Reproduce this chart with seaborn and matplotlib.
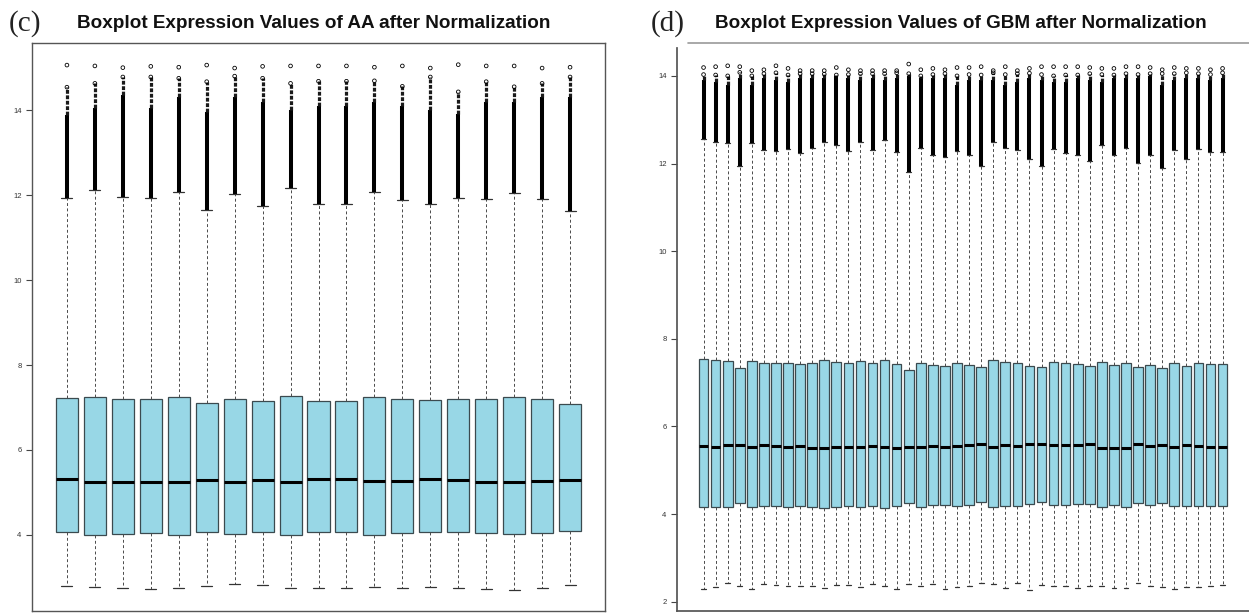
import numpy as np
import pandas as pd
import matplotlib
matplotlib.use("Agg")
import matplotlib.pyplot as plt
import seaborn as sns

# ---------------- data ----------------
aa_q3 = [7.22, 7.25, 7.20, 7.19, 7.25, 7.10, 7.21, 7.15, 7.27, 7.15, 7.15, 7.24, 7.19, 7.17, 7.20, 7.19, 7.24, 7.19, 7.09]
aa_med = [5.32, 5.25, 5.24, 5.25, 5.25, 5.30, 5.25, 5.29, 5.25, 5.31, 5.31, 5.26, 5.26, 5.31, 5.29, 5.25, 5.25, 5.27, 5.29]
aa_q1 = [4.06, 4.00, 4.02, 4.04, 4.00, 4.07, 4.02, 4.08, 4.01, 4.08, 4.08, 4.00, 4.04, 4.08, 4.06, 4.04, 4.02, 4.04, 4.09]
aa_lo = [2.80, 2.78, 2.75, 2.73, 2.74, 2.80, 2.84, 2.82, 2.74, 2.76, 2.76, 2.78, 2.75, 2.78, 2.76, 2.73, 2.71, 2.75, 2.82]
aa_hi = [11.92, 12.12, 11.96, 11.92, 12.08, 11.66, 12.02, 11.75, 12.17, 11.78, 11.78, 12.08, 11.88, 11.80, 11.92, 11.90, 12.06, 11.91, 11.63]
aa_dense = [13.88, 14.05, 14.35, 14.05, 14.30, 13.95, 14.30, 14.20, 14.00, 14.10, 14.10, 14.20, 14.10, 14.00, 13.90, 14.20, 14.20, 14.30, 14.30]
aa_chain = [14.54, 14.63, 14.78, 14.78, 14.75, 14.67, 14.80, 14.75, 14.63, 14.68, 14.68, 14.69, 14.56, 14.78, 14.43, 14.67, 14.55, 14.63, 14.78]
aa_max = [15.06, 15.04, 15.00, 15.03, 15.01, 15.06, 14.99, 15.03, 15.04, 15.04, 15.04, 15.01, 15.04, 14.99, 15.07, 15.04, 15.04, 14.99, 15.01]

gbm_q3 = [7.54, 7.51, 7.49, 7.33, 7.49, 7.45, 7.45, 7.45, 7.42, 7.45, 7.51, 7.47, 7.45, 7.49, 7.45, 7.52, 7.42, 7.29, 7.45, 7.40, 7.39, 7.45,
          7.40, 7.36, 7.51, 7.47, 7.45, 7.38, 7.36, 7.47, 7.45, 7.42, 7.38, 7.48, 7.40, 7.45, 7.36, 7.40, 7.33, 7.45, 7.38, 7.45, 7.42, 7.42]
gbm_med = [5.56, 5.54, 5.58, 5.58, 5.53, 5.57, 5.55, 5.54, 5.56, 5.51, 5.52, 5.54, 5.54, 5.54, 5.55, 5.53, 5.51, 5.54, 5.54, 5.55, 5.54, 5.55,
           5.58, 5.61, 5.53, 5.58, 5.55, 5.59, 5.61, 5.57, 5.58, 5.58, 5.59, 5.52, 5.52, 5.52, 5.59, 5.56, 5.58, 5.54, 5.58, 5.55, 5.54, 5.53]
gbm_q1 = [4.16, 4.16, 4.17, 4.25, 4.16, 4.18, 4.18, 4.17, 4.19, 4.16, 4.14, 4.16, 4.19, 4.16, 4.18, 4.15, 4.18, 4.26, 4.17, 4.20, 4.21, 4.19,
          4.22, 4.27, 4.16, 4.19, 4.18, 4.23, 4.27, 4.20, 4.22, 4.23, 4.24, 4.17, 4.21, 4.16, 4.25, 4.21, 4.26, 4.18, 4.19, 4.18, 4.18, 4.19]
gbm_lo = [2.30, 2.33, 2.42, 2.36, 2.30, 2.40, 2.39, 2.36, 2.37, 2.37, 2.32, 2.39, 2.39, 2.33, 2.40, 2.35, 2.29, 2.40, 2.37, 2.40, 2.29, 2.33,
          2.37, 2.42, 2.40, 2.32, 2.42, 2.26, 2.39, 2.35, 2.35, 2.32, 2.37, 2.37, 2.32, 2.32, 2.42, 2.35, 2.34, 2.30, 2.34, 2.34, 2.36, 2.39]
gbm_hi = [12.57, 12.49, 12.46, 11.95, 12.47, 12.30, 12.29, 12.33, 12.25, 12.36, 12.49, 12.43, 12.29, 12.49, 12.30, 12.54, 12.27, 11.81,
          12.36, 12.20, 12.15, 12.29, 12.19, 11.95, 12.49, 12.36, 12.30, 12.11, 11.95, 12.33, 12.24, 12.19, 12.05, 12.43, 12.19, 12.36,
          12.01, 12.19, 11.89, 12.30, 12.11, 12.33, 12.27, 12.27]
gbm_dense = [13.90, 13.85, 13.80, 13.95, 13.80, 13.95, 13.90, 13.85, 13.95, 13.95, 13.95, 14.00, 13.95, 13.90, 13.95, 13.90, 13.95, 14.00,
             13.95, 13.95, 13.95, 13.80, 13.90, 13.90, 13.90, 13.80, 13.85, 13.95, 13.90, 13.85, 13.85, 13.95, 13.90, 13.85, 13.95, 13.95,
             13.95, 14.00, 13.80, 13.90, 13.95, 13.95, 13.90, 13.95]
gbm_chain = [14.03, 14.02, 14.00, 14.08, 14.00, 14.05, 14.07, 14.02, 14.05, 14.05, 14.04, 14.02, 14.03, 14.05, 14.05, 14.05, 14.07, 14.05,
             14.00, 14.03, 14.05, 14.00, 14.03, 14.02, 14.07, 14.03, 14.05, 14.06, 14.03, 14.00, 14.02, 14.02, 14.05, 14.03, 14.02, 14.05,
             14.03, 14.05, 14.05, 14.05, 14.07, 14.05, 14.03, 14.07]
gbm_max = [14.19, 14.21, 14.23, 14.21, 14.12, 14.14, 14.23, 14.17, 14.12, 14.12, 14.12, 14.19, 14.14, 14.12, 14.12, 14.12, 14.12, 14.27,
           14.14, 14.17, 14.14, 14.19, 14.19, 14.21, 14.12, 14.21, 14.12, 14.17, 14.21, 14.21, 14.21, 14.21, 14.19, 14.17, 14.17, 14.21,
           14.21, 14.19, 14.14, 14.19, 14.17, 14.17, 14.14, 14.17]

aa_yticks = [4, 6, 8, 10, 12, 14]
gbm_yticks = [2, 4, 6, 8, 10, 12, 14]

title_c = "Boxplot Expression Values of AA after Normalization"
title_d = "Boxplot Expression Values of GBM after Normalization"

# ---------------- style ----------------
sns.set_theme(style="white")
plt.rcParams["font.family"] = ["Liberation Sans", "DejaVu Sans"]

FILL = "#98d7e6"
EDGE = "#3b4a4f"

W, H = 1249, 613
fig = plt.figure(figsize=(W / 100, H / 100), dpi=100)


def frac(x0, y0, x1, y1):
    return [x0 / W, 1 - y1 / H, (x1 - x0) / W, (y1 - y0) / H]


def long_frame(lo, q1, med, q3, hi):
    rows = []
    for i, vals in enumerate(zip(lo, q1, med, q3, hi)):
        for v in vals:
            rows.append((i, v))
    return pd.DataFrame(rows, columns=["sample", "value"])


def panel(ax, lo, q1, med, q3, hi, dense, chain, mx, width, xlim, ylim, yticks):
    df = long_frame(lo, q1, med, q3, hi)
    sns.boxplot(data=df, x="sample", y="value", ax=ax, color=FILL, saturation=1,
                linecolor=EDGE, linewidth=0.9, width=width, whis=(0, 100),
                showfliers=False,
                medianprops=dict(color="black", linewidth=2.2),
                whiskerprops=dict(color="#4a4a4a", linewidth=0.7, linestyle=(0, (3, 2.5))),
                capprops=dict(color="#333333", linewidth=0.9))
    idx = np.arange(len(lo))
    # dense outlier column above each upper whisker
    ax.vlines(idx, hi, dense, color="black", linewidth=2.9, zorder=4)
    ax.vlines(idx, dense, chain, color="#1a1a1a", linewidth=2.3,
              linestyle=(0, (1.2, 0.5)), zorder=4)
    pts = pd.DataFrame({"x": np.concatenate([idx, idx]),
                        "y": np.concatenate([chain, mx])})
    sns.scatterplot(data=pts, x="x", y="y", ax=ax, marker="o", s=7,
                    facecolors="none", edgecolor="black", linewidth=0.6,
                    zorder=5, legend=False)
    ax.set_xlim(*xlim)
    ax.set_ylim(*ylim)
    ax.set_xticks([])
    ax.set_yticks(yticks)
    ax.set_yticklabels([str(t) for t in yticks])
    ax.set_xlabel("")
    ax.set_ylabel("")
    ax.tick_params(axis="y", left=True, length=4.5, width=0.8, color="#444444",
                   labelsize=5.5, labelcolor="#333333", pad=3)


# panel (c)
ax_c = fig.add_axes(frac(32, 43, 605, 611))
panel(ax_c, aa_lo, aa_q1, aa_med, aa_q3, aa_hi, aa_dense, aa_chain, aa_max,
      0.79, (-1.25, 19.25), (2.21, 15.58), aa_yticks)
for s in ax_c.spines.values():
    s.set_color("#555555")
    s.set_linewidth(1.0)

# panel (d)
ax_d = fig.add_axes(frac(677, 43, 1252, 611))
panel(ax_d, gbm_lo, gbm_q1, gbm_med, gbm_q3, gbm_hi, gbm_dense, gbm_chain, gbm_max,
      0.80, (-2.2, 45.44), (1.79, 14.75), gbm_yticks)
ax_d.spines["right"].set_visible(False)
ax_d.spines["top"].set_visible(False)
ax_d.spines["left"].set_color("#555555")
ax_d.spines["bottom"].set_color("#555555")
ax_d.spines["left"].set_bounds(1.79, 14.64)
ax_d.plot([0.019, 1.0], [1.0, 1.0], transform=ax_d.transAxes, color="#9a9a9a",
          linewidth=1.2, clip_on=False)

# titles and panel letters
fig.text(77 / W, 1 - 28 / H, title_c, fontsize=13.6, fontweight="bold",
         family=["Liberation Sans", "DejaVu Sans"], ha="left", va="baseline", color="#111111")
fig.text(715 / W, 1 - 28 / H, title_d, fontsize=13.6, fontweight="bold",
         family=["Liberation Sans", "DejaVu Sans"], ha="left", va="baseline", color="#111111")
fig.text(9 / W, 1 - 31 / H, "(c)", fontsize=21,
         family=["Liberation Serif", "DejaVu Serif"], ha="left", va="baseline", color="#222222")
fig.text(651 / W, 1 - 31 / H, "(d)", fontsize=21,
         family=["Liberation Serif", "DejaVu Serif"], ha="left", va="baseline", color="#222222")

fig.savefig("out.png", dpi=100, facecolor="white")
